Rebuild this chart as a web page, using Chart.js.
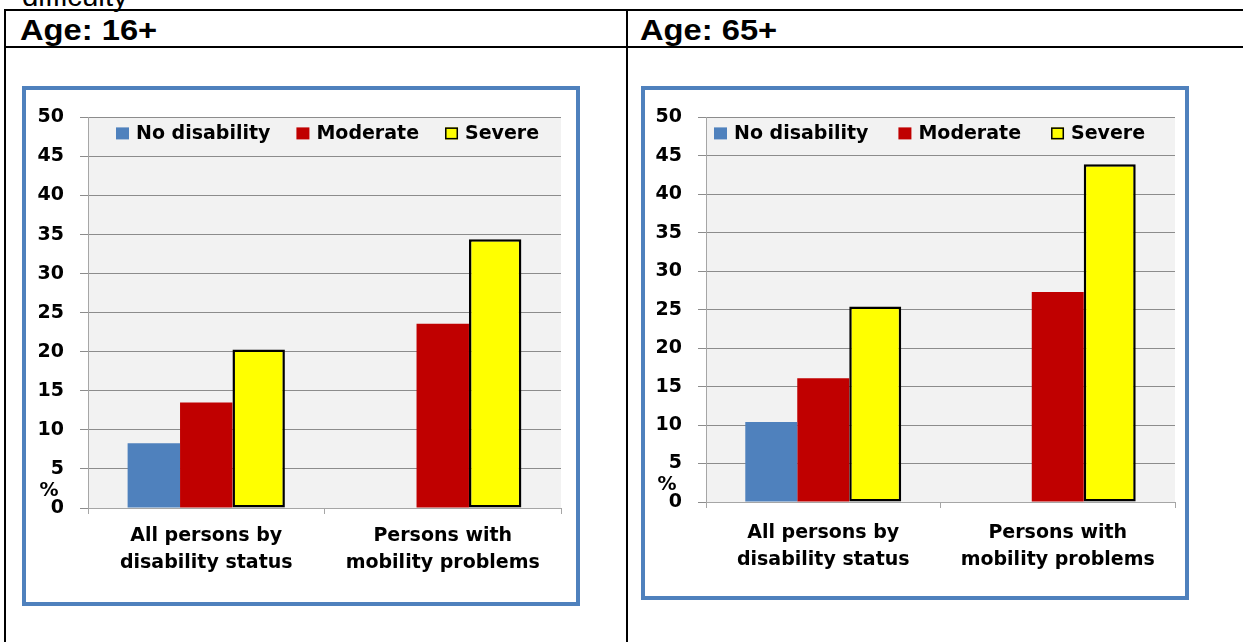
<!DOCTYPE html>
<html>
<head>
<meta charset="utf-8">
<script src="https://cdn.jsdelivr.net/npm/chart.js@4"></script>
<style>
    body { margin: 0; background: #fff; width: 1243px; height: 642px; overflow: hidden; position: relative; font-family: "Liberation Sans", Arial, sans-serif; }
    .line { position: absolute; background: #000; }
    .head { position: absolute; font-weight: bold; font-size: 30px; line-height: 30px; transform: scaleX(1.09); transform-origin: left top; }
    .box { position: absolute; border: 4px solid #4F81BD; background: #fff; }
    .box canvas { display: block; }
</style>
</head>
<body>
<div class="head" style="left:22px; top:-16px; font-weight:normal; font-size:27px; line-height:26px;">difficulty</div>
<div class="line" style="left:4px; top:9px; width:1260px; height:2px;"></div>
<div class="line" style="left:4px; top:46px; width:1260px; height:2px;"></div>
<div class="line" style="left:4px; top:9px; width:2px; height:640px;"></div>
<div class="line" style="left:626px; top:9px; width:2px; height:640px;"></div>
<div class="head" style="left:20px; top:15px;">Age: 16+</div>
<div class="head" style="left:640px; top:15px;">Age: 65+</div>

<div class="box" style="left:22px; top:86px; width:550px; height:512px;">
    <canvas id="chart16" width="550" height="512"></canvas>
</div>
<div class="box" style="left:641px; top:86px; width:540px; height:506px;">
    <canvas id="chart65" width="540" height="506"></canvas>
</div>

<script>
// Data
const categories = [['All persons by', 'disability status'], ['Persons with', 'mobility problems']];
const seriesNames = ['No disability', 'Moderate', 'Severe'];
const seriesColors = ['#4F81BD', '#C00000', '#FFFF00'];

const age16None = [8.3, null];
const age16Moderate = [13.5, 23.6];
const age16Severe = [20.3, 34.4];

const age65None = [10.4, null];
const age65Moderate = [16.1, 27.3];
const age65Severe = [25.4, 43.9];

const yTicks = [0, 5, 10, 15, 20, 25, 30, 35, 40, 45, 50];

const FONT = '"DejaVu Sans", Verdana, sans-serif';

// grey plot area behind the bars
const plotBg = {
    id: 'plotBg',
    beforeDraw(chart) {
        const a = chart.chartArea;
        const ctx = chart.ctx;
        ctx.save();
        ctx.fillStyle = '#F2F2F2';
        ctx.fillRect(a.left, a.top, a.right - a.left, a.bottom - a.top);
        ctx.restore();
    }
};

// legend drawn inside the plot, like the Excel original
const boxLegend = {
    id: 'boxLegend',
    afterDraw(chart, args, opts) {
        const ctx = chart.ctx;
        const a = chart.chartArea;
        let x = a.left + opts.x;
        const y = a.top + opts.y;
        ctx.save();
        ctx.font = 'bold 19px ' + FONT;
        ctx.textBaseline = 'middle';
        ctx.fillStyle = '#000';
        chart.data.datasets.forEach(ds => {
            ctx.fillStyle = ds.backgroundColor;
            ctx.fillRect(x, y - 6, 13, 12);
            if (ds.borderWidth) {
                ctx.strokeStyle = '#000';
                ctx.lineWidth = 1.5;
                ctx.strokeRect(x + 0.75, y - 5.25, 11.5, 10.5);
            }
            ctx.fillStyle = '#000';
            ctx.fillText(ds.label, x + 20, y + 1);
            x += 20 + ctx.measureText(ds.label).width + opts.gap;
        });
        ctx.restore();
    }
};

// "%" sitting between the 0 and 5 ticks
const percentMark = {
    id: 'percentMark',
    afterDraw(chart) {
        const ctx = chart.ctx;
        const y = chart.scales.y;
        ctx.save();
        ctx.font = 'bold 19px ' + FONT;
        ctx.textAlign = 'center';
        ctx.textBaseline = 'middle';
        ctx.fillStyle = '#000';
        ctx.fillText('%', y.right - 39, y.getPixelForValue(2.2));
        ctx.restore();
    }
};

function makeChart(id, none, moderate, severe, box) {
    const values = [none, moderate, severe];
    return new Chart(document.getElementById(id), {
        type: 'bar',
        data: {
            labels: categories,
            datasets: seriesNames.map((name, i) => ({
                label: name,
                data: values[i],
                backgroundColor: seriesColors[i],
                borderColor: '#000',
                borderWidth: i === 2 ? 2.5 : 0,
                borderSkipped: false,
                categoryPercentage: 0.665,
                barPercentage: 1
            }))
        },
        options: {
            responsive: false,
            animation: false,
            devicePixelRatio: 1,
            layout: { padding: { top: box.top, right: box.right, left: 0, bottom: 0 } },
            plugins: {
                legend: { display: false },
                tooltip: { enabled: false },
                boxLegend: { x: box.legendX, y: 16, gap: box.legendGap }
            },
            scales: {
                x: {
                    grid: { offset: true, drawOnChartArea: false, tickLength: 6, color: '#A6A6A6' },
                    border: { color: '#A6A6A6' },
                    ticks: {
                        color: '#000',
                        padding: box.xPad,
                        maxRotation: 0,
                        font: { family: FONT, size: 19, weight: 'bold', lineHeight: 1.45 }
                    },
                    afterFit: s => { s.height = box.xHeight; }
                },
                y: {
                    min: 0,
                    max: 50,
                    afterBuildTicks: s => { s.ticks = yTicks.map(v => ({ value: v })); },
                    grid: { color: '#8C8C8C', tickLength: 8 },
                    border: { color: '#A6A6A6' },
                    ticks: {
                        color: '#000',
                        padding: 16,
                        font: { family: FONT, size: 19, weight: 'bold' }
                    },
                    afterFit: s => { s.width = box.yWidth; }
                }
            }
        },
        plugins: [plotBg, boxLegend, percentMark]
    });
}

makeChart('chart16', age16None, age16Moderate, age16Severe,
    { top: 23, right: 15, yWidth: 62, xHeight: 94, xPad: 8, legendX: 28, legendGap: 26 });
makeChart('chart65', age65None, age65Moderate, age65Severe,
    { top: 23, right: 10, yWidth: 61, xHeight: 94, xPad: 11, legendX: 8, legendGap: 30 });
</script>
</body>
</html>
